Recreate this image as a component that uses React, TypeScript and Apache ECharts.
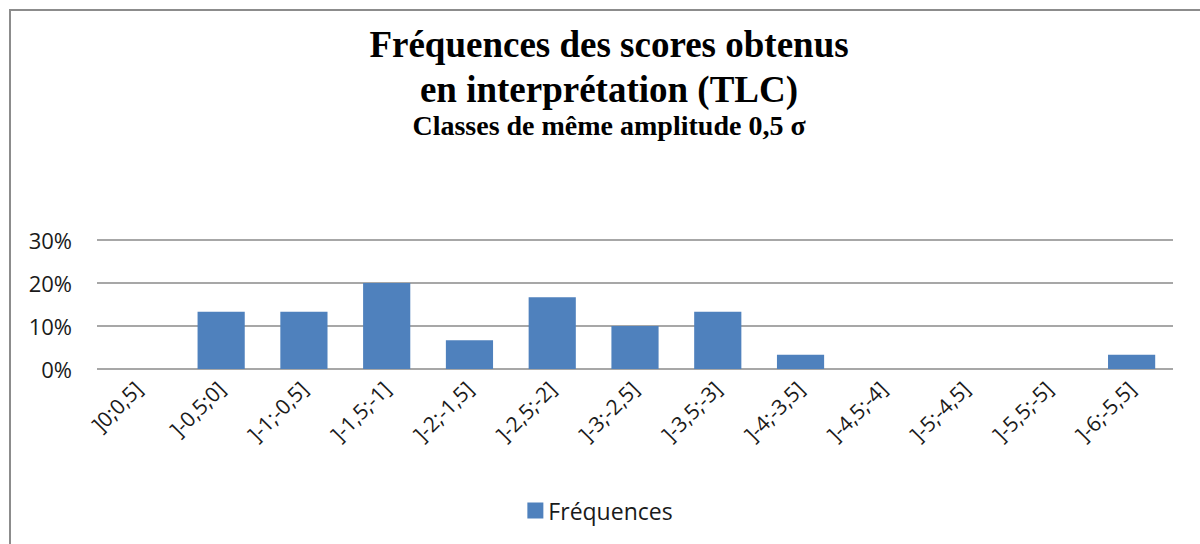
import React, { useEffect, useRef } from "react";
import * as echarts from "echarts";

const categories = ["]0;0,5]", "]-0,5;0]", "]-1;-0,5]", "]-1,5;-1]", "]-2;-1,5]", "]-2,5;-2]", "]-3;-2,5]", "]-3,5;-3]", "]-4;-3,5]", "]-4,5;-4]", "]-5;-4,5]", "]-5,5;-5]", "]-6;-5,5]"];
const frequences = [0, 13.33, 13.33, 20, 6.67, 16.67, 10, 13.33, 3.33, 0, 0, 0, 3.33];
const yTicks = [0, 10, 20, 30];
const seriesName = "Fréquences";
const titleLines = ["Fréquences des scores obtenus", "en interprétation (TLC)"];
const subtitle = "Classes de même amplitude 0,5 σ";

export default function App() {
  const ref = useRef<HTMLDivElement>(null);
  useEffect(() => {
    const chart = echarts.init(ref.current!, null, { renderer: "svg" });
    chart.setOption({
      animation: false,
      backgroundColor: "#ffffff",
      graphic: [
        {
          type: "rect",
          shape: { x: 10, y: 10, width: 1300, height: 700 },
          style: { fill: "none", stroke: "#8c8c8c", lineWidth: 2 },
          silent: true,
        },
        {
          type: "text",
          x: 609,
          y: 22,
          style: {
            text: titleLines.join("\n"),
            font: "bold 37px 'Liberation Serif', 'Times New Roman', serif",
            fill: "#000",
            align: "center",
            lineHeight: 45,
          },
        },
        {
          type: "text",
          x: 609,
          y: 111,
          style: {
            text: subtitle,
            font: "bold 28px 'Liberation Serif', 'Times New Roman', serif",
            fill: "#000",
            align: "center",
          },
        },
      ],
      legend: {
        top: 494,
        left: "center",
        itemWidth: 16,
        itemHeight: 16,
        itemGap: 6,
        icon: "rect",
        textStyle: { fontFamily: "'Open Sans', sans-serif", fontSize: 23, color: "#1a1a1a" },
        data: [seriesName],
      },
      grid: { left: 97, right: 27, top: 240, bottom: 175, containLabel: false },
      xAxis: {
        type: "category",
        data: categories,
        axisLine: { show: false },
        axisTick: { show: false },
        axisLabel: {
          rotate: 45,
          interval: 0,
          margin: 16,
          fontFamily: "'Open Sans', sans-serif",
          fontSize: 21,
          color: "#1a1a1a",
        },
      },
      yAxis: {
        type: "value",
        min: yTicks[0],
        max: yTicks[yTicks.length - 1],
        interval: 10,
        axisLine: { show: false },
        axisTick: { show: false },
        splitLine: { lineStyle: { color: "#8a8a8a", width: 1.5 } },
        axisLabel: {
          formatter: (v: number) => v + "%",
          fontFamily: "'Open Sans', sans-serif",
          fontSize: 22,
          color: "#1a1a1a",
          margin: 25,
        },
      },
      series: [
        {
          name: seriesName,
          type: "bar",
          data: frequences,
          barCategoryGap: "43%",
          itemStyle: { color: "#4f81bd" },
        },
      ],
    });
    return () => chart.dispose();
  }, []);
  return (
    <div style={{ position: "absolute", left: 0, top: 0, width: 1200, height: 544 }}>
      <div ref={ref} style={{ width: 1200, height: 544 }} />
    </div>
  );
}
